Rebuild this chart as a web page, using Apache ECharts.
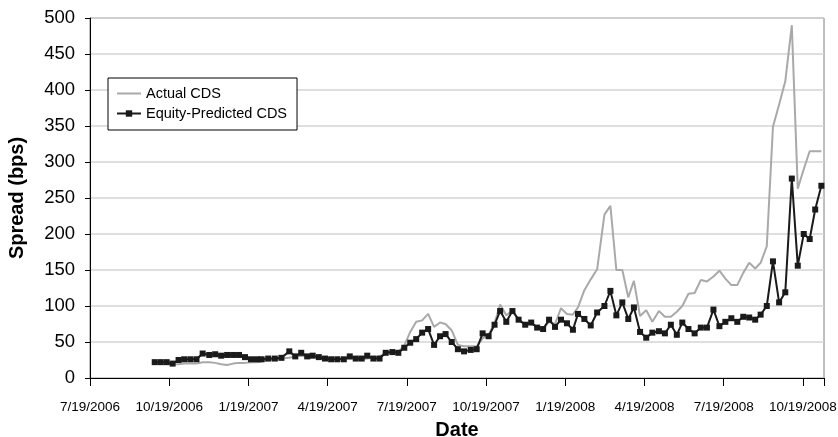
<!DOCTYPE html>
<html>
<head>
<meta charset="utf-8">
<script src="https://cdn.jsdelivr.net/npm/echarts@6/dist/echarts.min.js"></script>
<style>
    html, body { margin: 0; padding: 0; background: #fff; }
    #chart { width: 838px; height: 437px; }
</style>
</head>
<body>
<div id="chart"></div>
<script>
// weekly observations, first one on this date
const startDate = [2006, 10, 2]
const tickLabels = ['7/19/2006', '10/19/2006', '1/19/2007', '4/19/2007', '7/19/2007',
    '10/19/2007', '1/19/2008', '4/19/2008', '7/19/2008', '10/19/2008']

const actualCds = [
    20, 20, 20, 19, 19, 20, 20, 20, 22, 22, 21, 19, 18, 20, 21, 21, 22, 22, 23, 25,
    25, 27, 28, 30, 31, 30, 29, 28, 27, 27, 26, 27, 27, 27, 26, 27, 28, 30, 35, 36,
    37, 45, 64, 78, 80, 89, 71, 77, 75, 66, 46, 44, 44, 44, 55, 60, 76, 102, 87, 94,
    81, 75, 76, 71, 68, 78, 75, 97, 89, 88, 98, 122, 137, 151, 227, 239, 150, 150, 112, 135,
    86, 94, 78, 93, 85, 85, 92, 100, 117, 118, 136, 134, 141, 149, 138, 129, 129, 146, 160, 152,
    160, 183, 349, 380, 412, 490, 263, 290, 315, 315, 315
]
const predictedCds = [
    22, 22, 22, 20, 25, 26, 26, 26, 34, 32, 33, 31, 32, 32, 32, 29, 26, 26, 26, 27,
    27, 28, 37, 30, 35, 30, 31, 29, 27, 26, 26, 26, 30, 27, 27, 31, 27, 27, 35, 36,
    35, 42, 49, 54, 63, 68, 46, 58, 61, 50, 40, 37, 39, 40, 62, 58, 74, 93, 78, 93,
    81, 74, 77, 70, 68, 81, 71, 81, 76, 67, 89, 82, 73, 91, 100, 121, 87, 105, 82, 98,
    64, 56, 63, 65, 62, 74, 60, 77, 68, 62, 70, 70, 95, 72, 78, 83, 78, 85, 84, 81,
    88, 100, 162, 105, 119, 277, 156, 200, 193, 234, 267
]

// months elapsed since 7/19/2006 (the axis origin)
function monthsFromOrigin(d) {
    const y = d.getUTCFullYear(), m = d.getUTCMonth() + 1, day = d.getUTCDate()
    const dim = new Date(Date.UTC(y, m, 0)).getUTCDate()
    return (y - 2006) * 12 + (m - 7) + (day - 19) / dim
}
function weekX(i) {
    const d = new Date(Date.UTC(startDate[0], startDate[1] - 1, startDate[2] + 7 * i))
    return monthsFromOrigin(d)
}

const chart = echarts.init(document.getElementById('chart'))
const fontFamily = '"Liberation Sans", Arial, sans-serif'

const option = {
    animation: false,
    textStyle: { fontFamily },
    grid: {
        left: 90, right: 14, top: 18, bottom: 59,
        outerBoundsMode: 'none',
        containLabel: false,
        show: true, borderColor: '#7f7f7f', borderWidth: 1, backgroundColor: 'transparent'
    },
    legend: {
        orient: 'vertical',
        left: 108, top: 78,
        padding: [8, 10, 9, 8],
        itemGap: 5,
        itemWidth: 24, itemHeight: 8,
        borderColor: '#000', borderWidth: 1,
        backgroundColor: '#fff',
        textStyle: { fontSize: 14.5, color: '#000', fontFamily },
        data: [
            { name: 'Actual CDS', itemStyle: { opacity: 0 } },
            { name: 'Equity-Predicted CDS' }
        ]
    },
    xAxis: {
        type: 'value',
        min: 0, max: 27.8, interval: 3,
        name: 'Date', nameLocation: 'middle', nameGap: 42,
        nameTextStyle: { fontSize: 20, fontWeight: 'bold', color: '#000', fontFamily },
        axisLine: { lineStyle: { color: '#000', width: 1 } },
        axisTick: { length: 8, lineStyle: { color: '#000' } },
        axisLabel: {
            fontSize: 13.5, color: '#000', margin: 22,
            formatter: v => (Math.abs(v / 3 - Math.round(v / 3)) < 1e-6 ? (tickLabels[Math.round(v / 3)] || '') : '')
        },
        splitLine: { show: false }
    },
    yAxis: {
        type: 'value',
        min: 0, max: 500, interval: 50,
        name: 'Spread (bps)', nameLocation: 'middle', nameGap: 63,
        nameTextStyle: { fontSize: 20, fontWeight: 'bold', color: '#000', fontFamily },
        axisLine: { show: true, lineStyle: { color: '#000', width: 1 } },
        axisTick: { show: true, length: 5, lineStyle: { color: '#000' } },
        axisLabel: { fontSize: 18.5, color: '#000', margin: 15 },
        splitLine: { lineStyle: { color: '#d4d4d4', width: 1.5 } }
    },
    series: [
        {
            name: 'Actual CDS',
            type: 'line',
            data: actualCds.map((v, i) => [weekX(i), v]),
            symbol: 'none',
            lineStyle: { color: '#a9a9a9', width: 2 },
            itemStyle: { color: '#a9a9a9' },
            z: 2
        },
        {
            name: 'Equity-Predicted CDS',
            type: 'line',
            data: predictedCds.map((v, i) => [weekX(i), v]),
            symbol: 'rect',
            symbolSize: 6,
            lineStyle: { color: '#1a1a1a', width: 2 },
            itemStyle: { color: '#1a1a1a' },
            z: 3
        }
    ]
}
chart.setOption(option)
</script>
</body>
</html>
